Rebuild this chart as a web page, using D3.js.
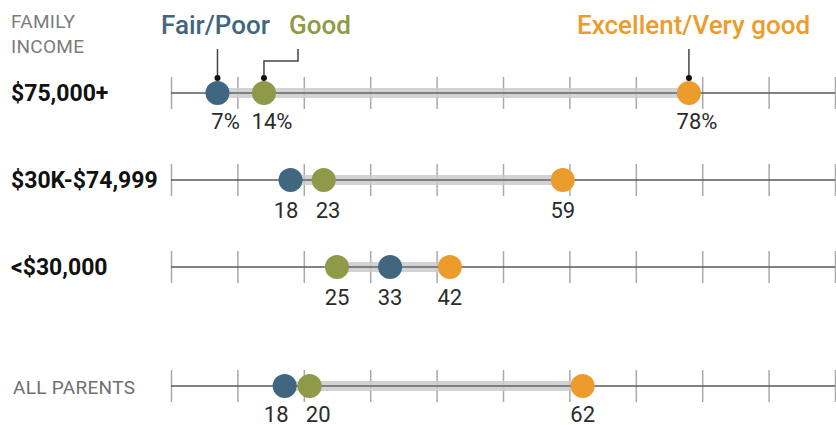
<!DOCTYPE html>
<html>
<head>
<meta charset="utf-8">
<script src="https://cdn.jsdelivr.net/npm/d3@7"></script>
<style>
  body { margin: 0; background: #fff; }
  text { font-family: Roboto, "Liberation Sans", sans-serif; }
</style>
</head>
<body>
<div id="chart"></div>
<script>
// rows and the three answer groups (percent of parents)
var categories = ["$75,000+", "$30K-$74,999", "<$30,000", "ALL PARENTS"];
var fairPoor   = [7, 18, 33, 18];
var good       = [14, 23, 25, 20];
var excellent  = [78, 59, 42, 62];
var seriesNames = ["Fair/Poor", "Good", "Excellent/Very good"];
var tickValues = [0, 10, 20, 30, 40, 50, 60, 70, 80, 90, 100];

var colors = {"Fair/Poor": "#41667f", "Good": "#8e9a47", "Excellent/Very good": "#eb9c2d"};

var width = 836, height = 425;
var dotR = 12;

var svg = d3.select("#chart").append("svg")
   .attr("width", width).attr("height", height);

var x = d3.scaleLinear().domain([0, 100]).range([171, 835]);
// first three rows evenly spaced, the total row sits lower
var yRow = d3.scaleLinear().domain([0, 2]).range([93, 267]);
var y = function(i) { return i < 3 ? yRow(i) : yRow(2) + 119; };

// push apart neighbouring positions closer than minGap
function dodge(items, key, minGap) {
   var sorted = items.slice().sort(function(a, b) { return a[key] - b[key]; });
   for (var k = 1; k < sorted.length; k++) {
      var gap = sorted[k][key] - sorted[k - 1][key];
      if (gap < minGap) {
         var shift = (minGap - gap) / 2;
         sorted[k - 1][key] -= shift;
         sorted[k][key] += shift;
      }
   }
}

var rows = categories.map(function(c, i) {
   var vals = [
      {name: seriesNames[0], v: fairPoor[i]},
      {name: seriesNames[1], v: good[i]},
      {name: seriesNames[2], v: excellent[i]}
   ];
   vals.forEach(function(e) { e.px = x(e.v); });
   dodge(vals, "px", 2 * dotR + 1);
   vals.forEach(function(e) { e.lx = e.px; });
   dodge(vals, "lx", 42);
   return {cat: c, i: i, vals: vals};
});

// header
svg.append("text").attr("x", 11).attr("y", 28)
   .attr("fill", "#7d7d7d").style("font-size", "19px").style("letter-spacing", "0.3px").text("FAMILY");
svg.append("text").attr("x", 11).attr("y", 53)
   .attr("fill", "#7d7d7d").style("font-size", "19px").style("letter-spacing", "0.3px").text("INCOME");

var g = svg.selectAll(".row").data(rows).enter()
   .append("g").attr("class", "row")
   .attr("transform", function(d) { return "translate(0," + y(d.i) + ")"; });

// axis line + ticks
g.each(function(d) {
   var axis = d3.axisBottom(x).tickValues(tickValues).tickSize(32).tickFormat("");
   var ag = d3.select(this).append("g").attr("transform", "translate(0,-16)").call(axis);
   ag.select(".domain").remove();
   ag.selectAll(".tick line").attr("stroke", "#a9a9a9").attr("stroke-width", 1.5);
});
g.append("line")
   .attr("x1", x(0)).attr("x2", x(100))
   .attr("stroke", "#5a5a5a").attr("stroke-width", 1.5);

// gray range band
g.append("rect")
   .attr("x", function(d) { return d3.min(d.vals, function(e) { return e.px; }); })
   .attr("width", function(d) {
      var ext = d3.extent(d.vals, function(e) { return e.px; });
      return ext[1] - ext[0];
   })
   .attr("y", -5).attr("height", 10)
   .attr("fill", "#c9cbcd").attr("opacity", 0.85);
g.append("line")
   .attr("x1", function(d) { return d3.min(d.vals, function(e) { return e.px; }); })
   .attr("x2", function(d) { return d3.max(d.vals, function(e) { return e.px; }); })
   .attr("stroke", "#6a6a6a").attr("stroke-width", 1.5);

// dots
g.selectAll("circle.dot").data(function(d) { return d.vals; }).enter()
   .append("circle").attr("class", "dot")
   .attr("cx", function(d) { return d.px; })
   .attr("r", dotR)
   .attr("fill", function(d) { return colors[d.name]; });

// value labels (number centred under the dot, % trails on the first row)
g.each(function(d) {
   var sel = d3.select(this);
   var base = d.i === 0 ? 36 : (d.i === 3 ? 36 : 38);
   d.vals.forEach(function(e) {
      var t = sel.append("text")
         .attr("x", e.lx).attr("y", base)
         .attr("text-anchor", "middle")
         .attr("fill", "#2b2b2b").style("font-size", "22px")
         .text(e.v);
      if (d.i === 0) {
         var w = t.node().getComputedTextLength();
         sel.append("text")
            .attr("x", e.lx + w / 2).attr("y", base)
            .attr("fill", "#2b2b2b").style("font-size", "22px")
            .text("%");
      }
   });
});

// row labels
g.append("text")
   .attr("x", function(d) { return d.i === 3 ? 13 : 11; })
   .attr("y", 8)
   .attr("fill", function(d) { return d.i === 3 ? "#6f6f6f" : "#111"; })
   .style("font-size", function(d) { return d.i === 3 ? "19px" : "23px"; })
   .style("font-weight", function(d) { return d.i === 3 ? 400 : 700; })
   .style("letter-spacing", function(d) { return d.i === 3 ? "0.3px" : "0px"; })
   .text(function(d) { return d.cat; });

// legend with leader lines onto the first row
var r0 = y(0);
var p0 = rows[0].vals;
var legend = [
   {name: seriesNames[0], lx: 161, path: [[p0[0].px, 49], [p0[0].px, r0 - 15]]},
   {name: seriesNames[1], lx: 289, path: [[298, 49], [298, 61], [p0[1].px, 61], [p0[1].px, r0 - 15]]},
   {name: seriesNames[2], lx: 577, path: [[p0[2].px, 49], [p0[2].px, r0 - 15]]}
];
svg.selectAll(".legend").data(legend).enter()
   .append("text").attr("class", "legend")
   .attr("x", function(d) { return d.lx; }).attr("y", 34)
   .attr("fill", function(d) { return colors[d.name]; })
   .style("font-size", "26px").style("font-weight", 500)
   .text(function(d) { return d.name; });
svg.selectAll(".leader").data(legend).enter()
   .append("path").attr("class", "leader")
   .attr("d", function(d) { return d3.line()(d.path); })
   .attr("fill", "none").attr("stroke", "#444").attr("stroke-width", 1.5);
svg.selectAll(".leader-dot").data(legend).enter()
   .append("circle").attr("class", "leader-dot")
   .attr("cx", function(d) { return d.path[d.path.length - 1][0]; })
   .attr("cy", function(d) { return d.path[d.path.length - 1][1]; })
   .attr("r", 3).attr("fill", "#111");
</script>
</body>
</html>
